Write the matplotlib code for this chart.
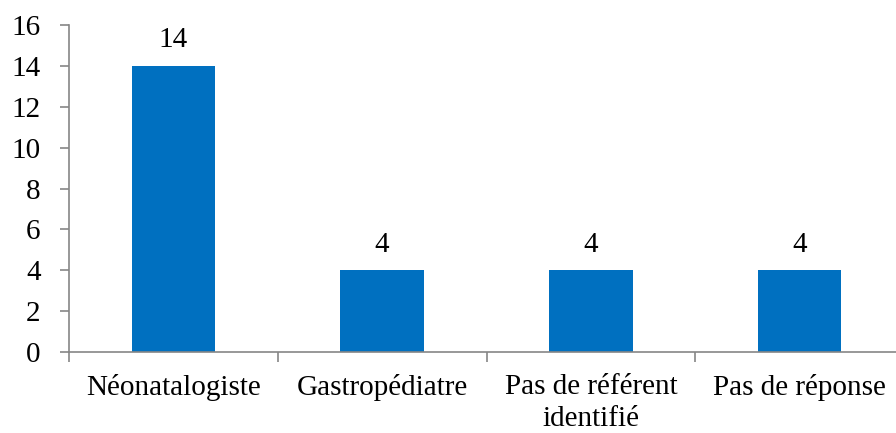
import matplotlib
matplotlib.use("Agg")
import matplotlib.pyplot as plt
import numpy as np

categories = ["Néonatalogiste", "Gastropédiatre", "Pas de référent\nidentifié",
              "Pas de réponse"]
counts = [14, 4, 4, 4]
yticks = [0, 2, 4, 6, 8, 10, 12, 14, 16]

BLUE = "#0070C0"
GREY = "#868686"
FS = 21

plt.rcParams["font.family"] = ["Liberation Serif", "DejaVu Serif"]

fig = plt.figure(figsize=(8.96, 4.33), dpi=100)
ax = fig.add_axes([0.077, 0.187, 0.932, 0.755])

x = np.arange(len(categories))
ax.bar(x, counts, width=0.4, color=BLUE, zorder=2)
for xi, v in zip(x, counts):
    ax.annotate(f"{v}", (xi, v), xytext=(0, 9), textcoords="offset points",
                ha="center", va="bottom", fontsize=FS)

ax.set_xlim(-0.5, len(categories) - 0.5)
ax.set_ylim(0, 16)
ax.set_yticks(yticks)
ax.set_xticks(x)
ax.set_xticklabels(categories, fontsize=FS, linespacing=1.3)
ax.set_xticks(np.arange(len(categories) + 1) - 0.5, minor=True)
ax.tick_params(axis="x", which="major", length=0, pad=16)
ax.tick_params(axis="x", which="minor", length=7, width=1.2, color=GREY)
ax.tick_params(axis="y", length=6.5, width=1.2, color=GREY, labelsize=FS, pad=14)

for side in ("top", "right"):
    ax.spines[side].set_visible(False)
for side in ("left", "bottom"):
    ax.spines[side].set_color(GREY)
    ax.spines[side].set_linewidth(1.2)

fig.savefig("out.png", dpi=100)
